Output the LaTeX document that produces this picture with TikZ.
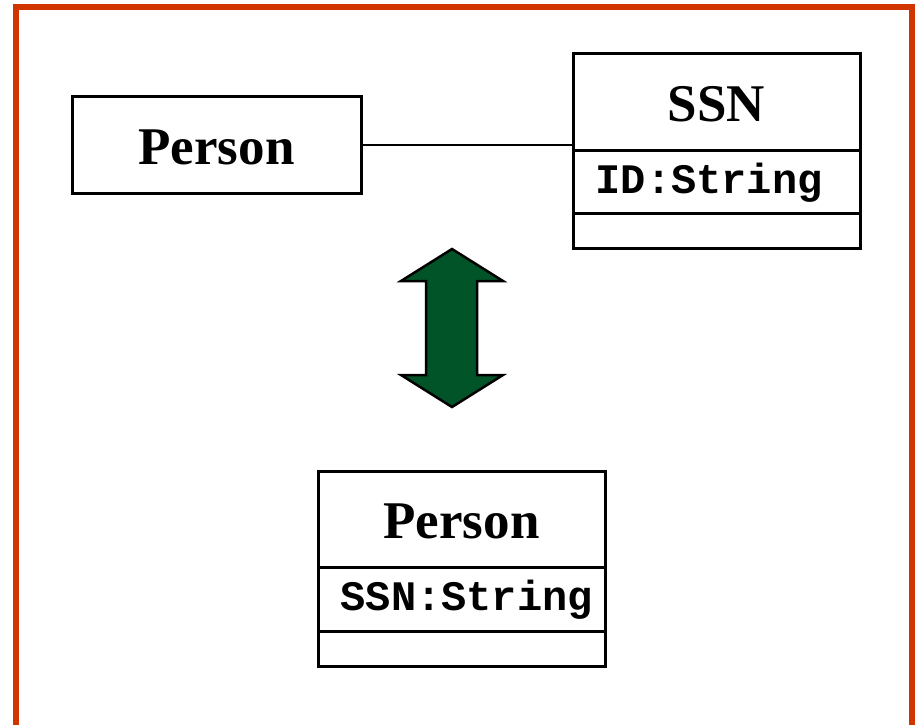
\documentclass[tikz,border=0pt]{standalone}
\usepackage{fontspec}
\setmainfont{Liberation Serif}
\setmonofont{Liberation Mono}
\definecolor{frameorange}{RGB}{208,53,0}
\definecolor{arrowgreen}{RGB}{0,84,40}
\begin{document}
\begin{tikzpicture}[x=1pt,y=-1pt,
  umlbox/.style={draw=black, line width=3pt, rectangle, inner sep=0pt, fill=white},
  titletext/.style={font=\fontsize{53}{60}\selectfont\bfseries, inner sep=0pt},
  attrtext/.style={font=\fontsize{42}{48}\selectfont\ttfamily\bfseries, inner sep=0pt, anchor=west}]
\useasboundingbox (0,0) rectangle (915,724);
% frame
\draw[frameorange, line width=6pt] (16,740) -- (16,7) -- (912,7) -- (912,740);
% left Person
\node[umlbox, minimum width=289pt, minimum height=97pt] (p1) at (216.5,144.5) {};
\node[titletext] (p1t) at ([yshift=-3pt]p1.center) {Person};
% SSN class
\node[umlbox, minimum width=287pt, minimum height=97pt] (sA) at (716.5,101.5) {};
\node[titletext] (sAt) at ([yshift=-3pt]sA.center) {SSN};
\node[umlbox, minimum width=287pt, minimum height=63pt] (sB) at (716.5,181.5) {};
\node[umlbox, minimum width=287pt, minimum height=35pt] (sC) at (716.5,230.5) {};
\node[attrtext] (sBt) at ([xshift=24pt,yshift=-1pt]sB.west) {ID:String};
% association
\coordinate (ja) at (sA.west |- p1.east);
\draw[line width=2pt] (p1.east) -- (ja);
% double arrow
\coordinate (atop) at (452,249);
\coordinate (abot) at (452,407);
\draw[fill=arrowgreen, line width=2.5pt, line join=miter]
  (atop) -- (503,281) -- (477,281) -- (477,375) -- (503,375) -- (abot)
  -- (401,375) -- (426,375) -- (426,281) -- (401,281) -- cycle;
% bottom Person class
\node[umlbox, minimum width=287pt, minimum height=96pt] (qA) at (461.5,519) {};
\node[titletext] (qAt) at ([yshift=-2pt]qA.center) {Person};
\node[umlbox, minimum width=287pt, minimum height=64pt] (qB) at (461.5,599) {};
\node[umlbox, minimum width=287pt, minimum height=35pt] (qC) at (461.5,648.5) {};
\node[attrtext] (qBt) at ([xshift=24pt,yshift=-1pt]qB.west) {SSN:String};
\end{tikzpicture}
\end{document}
